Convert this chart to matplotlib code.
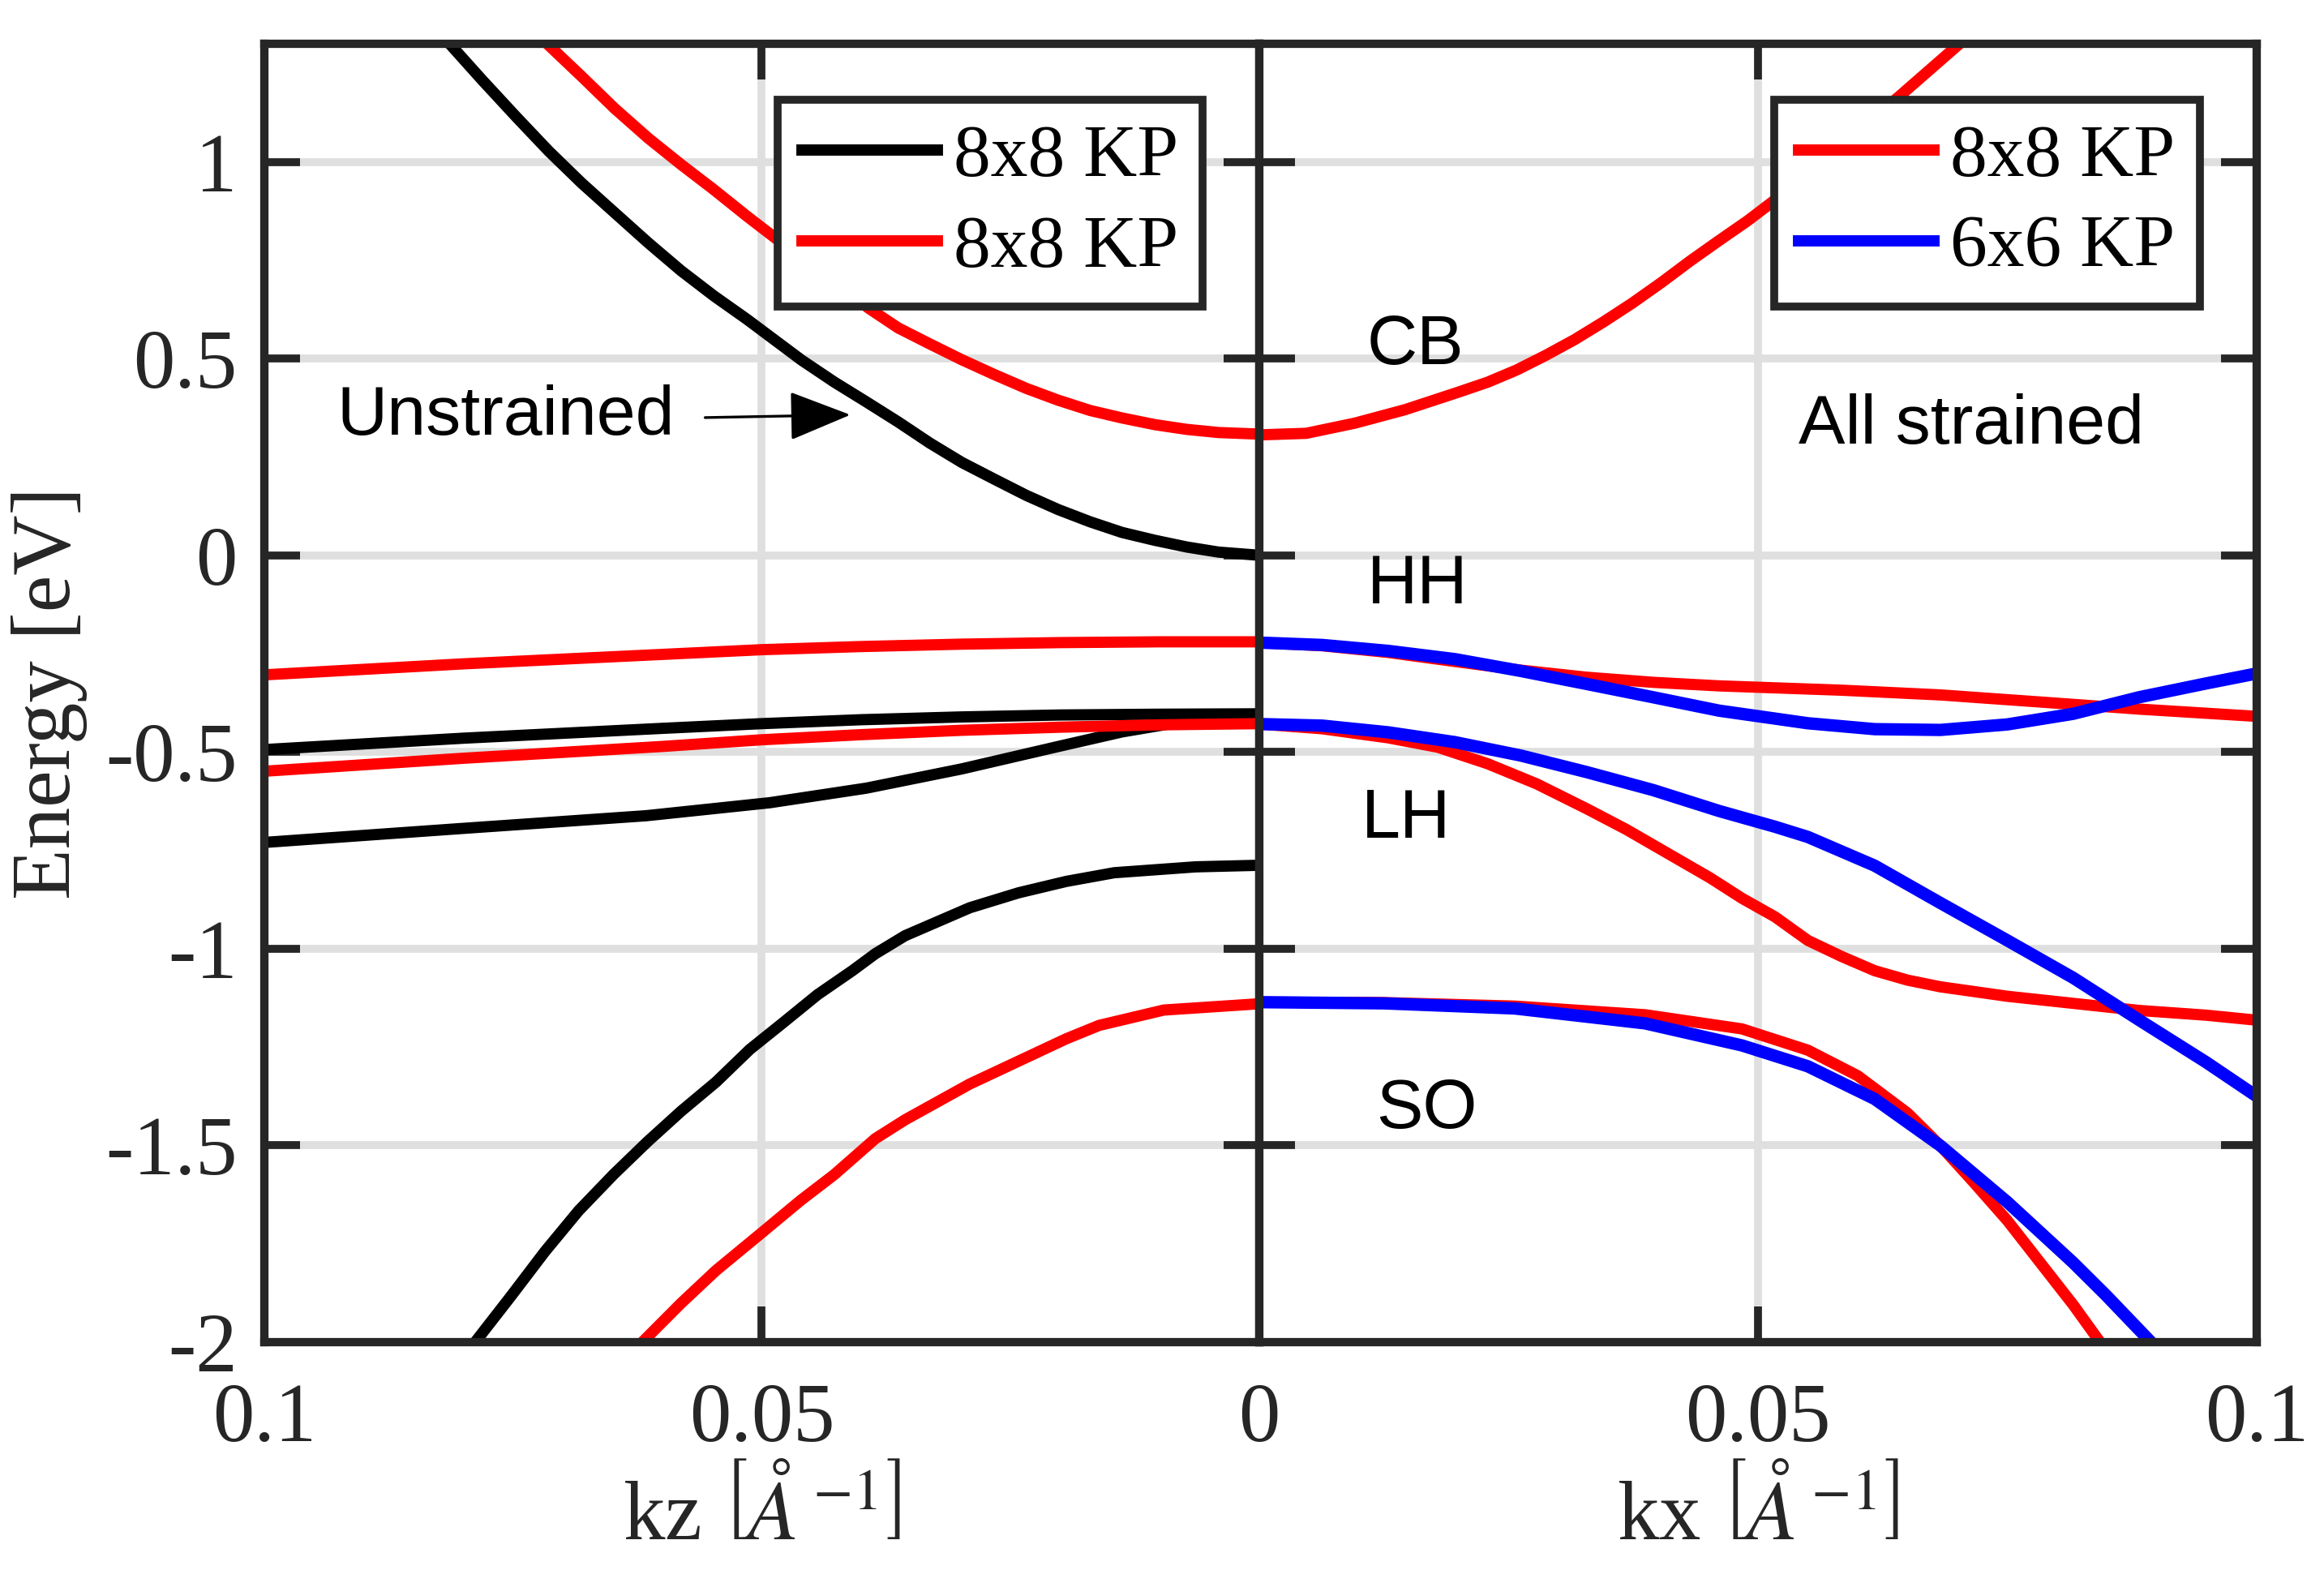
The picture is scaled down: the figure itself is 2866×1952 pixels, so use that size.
import matplotlib.pyplot as plt
from matplotlib.lines import Line2D

plt.rcParams['font.family'] = ['Liberation Serif', 'DejaVu Serif']
plt.rcParams['mathtext.fontset'] = 'stix'
plt.rcParams['axes.unicode_minus'] = False

# ---- left panel: along kz, 8x8 KP, unstrained (black) / strained (red)
kz_cb_u = [0.0814, 0.0781, 0.0747, 0.0714, 0.0681, 0.0648, 0.0614, 0.0581, 0.0548, 0.0515, 0.0460,
           0.0427, 0.0395, 0.0363, 0.0331, 0.0299, 0.0266, 0.0234, 0.0202, 0.0170, 0.0138, 0.0105,
           0.0073, 0.0041, 0.0]
e_cb_u = [1.301, 1.208, 1.115, 1.027, 0.946, 0.871, 0.794, 0.723, 0.659, 0.600, 0.496,
          0.440, 0.390, 0.339, 0.285, 0.236, 0.193, 0.152, 0.116, 0.085, 0.058, 0.038,
          0.021, 0.008, 0.0]
kz_hh_u = [0.1, 0.08, 0.06, 0.05, 0.04, 0.03, 0.02, 0.01, 0.0]
e_hh_u = [-0.494, -0.465, -0.440, -0.428, -0.418, -0.411, -0.406, -0.404, -0.403]
kz_lh_u = [0.1, 0.081, 0.0616, 0.0492, 0.0395, 0.0299, 0.0202, 0.0138, 0.0089, 0.0045, 0.0]
e_lh_u = [-0.730, -0.696, -0.662, -0.629, -0.592, -0.543, -0.486, -0.449, -0.428, -0.414, -0.405]
kz_so_u = [0.0788, 0.0752, 0.0718, 0.0684, 0.0649, 0.0615, 0.0581, 0.0546, 0.0512, 0.0478, 0.0444,
           0.0409, 0.0386, 0.0356, 0.0291, 0.0242, 0.0194, 0.0146, 0.0064, 0.0]
e_so_u = [-2.0, -1.883, -1.770, -1.666, -1.574, -1.491, -1.413, -1.339, -1.256, -1.187, -1.117,
          -1.056, -1.013, -0.967, -0.896, -0.858, -0.829, -0.807, -0.792, -0.788]

kz_cb_s = [0.0716, 0.0681, 0.0648, 0.0614, 0.0581, 0.0548, 0.0515, 0.0478, 0.0392, 0.0363, 0.0331,
           0.0299, 0.0266, 0.0234, 0.0202, 0.0170, 0.0138, 0.0105, 0.0073, 0.0041, 0.0]
e_cb_s = [1.301, 1.217, 1.136, 1.060, 0.993, 0.929, 0.862, 0.790, 0.627, 0.578, 0.537,
          0.497, 0.459, 0.424, 0.394, 0.368, 0.349, 0.332, 0.320, 0.312, 0.308]
kz_hh_s = [0.1, 0.08, 0.06, 0.05, 0.04, 0.03, 0.02, 0.01, 0.0]
e_hh_s = [-0.304, -0.276, -0.252, -0.240, -0.232, -0.226, -0.222, -0.220, -0.220]
kz_lh_s = [0.1, 0.08, 0.06, 0.05, 0.04, 0.03, 0.02, 0.01, 0.0]
e_lh_s = [-0.549, -0.516, -0.486, -0.469, -0.456, -0.445, -0.437, -0.431, -0.428]
kz_so_s = [0.0620, 0.0581, 0.0546, 0.0500, 0.0461, 0.0427, 0.0386, 0.0356, 0.0291, 0.0194, 0.0161,
           0.0096, 0.0]
e_so_s = [-2.0, -1.901, -1.818, -1.722, -1.640, -1.574, -1.483, -1.435, -1.344, -1.229, -1.195,
          -1.156, -1.14]

# ---- right panel: along kx, all strained, 8x8 KP (red) / 6x6 KP (blue)
kx_cb_8 = [0.0, 0.0047, 0.0096, 0.0146, 0.0200, 0.0229, 0.0258, 0.0287, 0.0316, 0.0345, 0.0374,
           0.0403, 0.0432, 0.0461, 0.0490, 0.0519, 0.0641, 0.0702]
e_cb_8 = [0.306, 0.310, 0.336, 0.370, 0.415, 0.440, 0.471, 0.508, 0.548, 0.593, 0.641,
          0.693, 0.748, 0.800, 0.851, 0.907, 1.165, 1.30]
kx_hh_8 = [0.0, 0.0063, 0.0129, 0.0196, 0.0262, 0.0328, 0.0395, 0.0461, 0.0584, 0.0683, 0.0783,
           0.0882, 0.0997]
e_hh_8 = [-0.222, -0.230, -0.247, -0.270, -0.292, -0.310, -0.323, -0.332, -0.343, -0.355, -0.373,
          -0.391, -0.409]
kx_lh_8 = [0.0, 0.0063, 0.0129, 0.0179, 0.0229, 0.0278, 0.0328, 0.0368, 0.0452, 0.0484, 0.0517,
           0.0550, 0.0584, 0.0617, 0.0650, 0.0683, 0.0750, 0.0816, 0.0882, 0.0949, 0.0997]
e_lh_8 = [-0.429, -0.441, -0.464, -0.488, -0.530, -0.581, -0.644, -0.697, -0.820, -0.872, -0.919,
          -0.979, -1.020, -1.056, -1.080, -1.097, -1.121, -1.139, -1.157, -1.169, -1.181]
kx_so_8 = [0.0, 0.0125, 0.0256, 0.0387, 0.0484, 0.0550, 0.0600, 0.0650, 0.0683, 0.0717, 0.0750,
           0.0783, 0.0816, 0.0843]
e_so_8 = [-1.136, -1.137, -1.146, -1.168, -1.204, -1.258, -1.323, -1.418, -1.501, -1.596, -1.691,
          -1.798, -1.905, -2.0]

kx_hh_6 = [0.0, 0.0063, 0.0129, 0.0196, 0.0262, 0.0328, 0.0395, 0.0461, 0.0550, 0.0617, 0.0683,
           0.0750, 0.0816, 0.0882, 0.0949, 0.0997]
e_hh_6 = [-0.222, -0.228, -0.243, -0.264, -0.294, -0.327, -0.361, -0.395, -0.427, -0.442, -0.444,
          -0.430, -0.403, -0.361, -0.326, -0.302]
kx_lh_6 = [0.0, 0.0063, 0.0129, 0.0196, 0.0262, 0.0328, 0.0395, 0.0461, 0.0517, 0.0550, 0.0617,
           0.0683, 0.0750, 0.0816, 0.0882, 0.0949, 0.0997]
e_lh_6 = [-0.429, -0.433, -0.450, -0.475, -0.509, -0.551, -0.597, -0.650, -0.690, -0.716, -0.789,
          -0.884, -0.979, -1.074, -1.181, -1.288, -1.370]
kx_so_6 = [0.0, 0.0125, 0.0256, 0.0387, 0.0484, 0.0550, 0.0617, 0.0683, 0.0750, 0.0816, 0.0849,
           0.0894]
e_so_6 = [-1.136, -1.139, -1.152, -1.19, -1.246, -1.299, -1.382, -1.501, -1.644, -1.798, -1.881,
          -2.0]

yticks = [-2, -1.5, -1, -0.5, 0, 0.5, 1]
yticklabels = ['-2', '-1.5', '-1', '-0.5', '0', '0.5', '1']

dark = '#262626'
lw = 5
fs_tick = 37

fig = plt.figure(figsize=(14.33, 9.76), dpi=200)
axL = fig.add_axes([0.1137, 0.1522, 0.5419 - 0.1137, 0.9723 - 0.1522])
axR = fig.add_axes([0.5419, 0.1522, 0.971 - 0.5419, 0.9723 - 0.1522])

for ax in (axL, axR):
    ax.set_ylim(-2, 1.3)
    ax.set_yticks(yticks)
    ax.grid(True, color='#dfdfdf', lw=3.5)
    ax.set_axisbelow(True)
    for s in ax.spines.values():
        s.set_linewidth(3.7)
        s.set_color(dark)
        s.set_zorder(5)
    ax.tick_params(direction='in', length=16, width=3.5, colors=dark,
                   labelsize=fs_tick, top=True, right=True, pad=18)
    ax.tick_params(axis='y', pad=12)

axL.set_xlim(0.1, 0)
axL.set_xticks([0.1, 0.05, 0])
axL.set_xticklabels(['0.1', '0.05', '0'])
axL.set_yticklabels(yticklabels)
axR.set_xlim(0, 0.1)
axR.set_xticks([0, 0.05, 0.1])
axR.set_xticklabels(['', '0.05', '0.1'])
axR.set_yticklabels([])

axL.plot(kz_cb_u, e_cb_u, color='k', lw=lw)
axL.plot(kz_hh_u, e_hh_u, color='k', lw=lw)
axL.plot(kz_lh_u, e_lh_u, color='k', lw=lw)
axL.plot(kz_so_u, e_so_u, color='k', lw=lw)
axL.plot(kz_cb_s, e_cb_s, color='r', lw=lw)
axL.plot(kz_hh_s, e_hh_s, color='r', lw=lw)
axL.plot(kz_lh_s, e_lh_s, color='r', lw=lw)
axL.plot(kz_so_s, e_so_s, color='r', lw=lw)

axR.plot(kx_cb_8, e_cb_8, color='r', lw=lw)
axR.plot(kx_hh_8, e_hh_8, color='r', lw=lw)
axR.plot(kx_lh_8, e_lh_8, color='r', lw=lw)
axR.plot(kx_so_8, e_so_8, color='r', lw=lw)
axR.plot(kx_hh_6, e_hh_6, color='b', lw=lw + 0.5)
axR.plot(kx_lh_6, e_lh_6, color='b', lw=lw + 0.5)
axR.plot(kx_so_6, e_so_6, color='b', lw=lw + 0.5)

axL.set_ylabel('Energy [eV]', fontsize=fs_tick, color=dark, labelpad=8)
axL.set_xlabel(r'kz $\left[\mathit{\AA}^{-1}\right]$', fontsize=fs_tick, color=dark, labelpad=6)
axR.set_xlabel(r'kx $\left[\mathit{\AA}^{-1}\right]$', fontsize=fs_tick, color=dark, labelpad=6)

# annotations
sans = ['Liberation Sans', 'DejaVu Sans']
axL.text(0.0927, 0.307, 'Unstrained', family=sans, fontsize=31, va='baseline', ha='left')
axL.annotate('', xy=(0.0411, 0.357), xytext=(0.0557, 0.35),
             arrowprops=dict(arrowstyle='-|>,head_length=0.8,head_width=0.32',
                             mutation_scale=30, color='k', lw=1.2,
                             shrinkA=0, shrinkB=0))
axR.text(0.0108, 0.486, 'CB', family=sans, fontsize=31, va='baseline', ha='left')
axR.text(0.0108, -0.123, 'HH', family=sans, fontsize=31, va='baseline', ha='left')
axR.text(0.0102, -0.717, 'LH', family=sans, fontsize=31, va='baseline', ha='left')
axR.text(0.0117, -1.455, 'SO', family=sans, fontsize=31, va='baseline', ha='left')
axR.text(0.0541, 0.284, 'All strained', family=sans, fontsize=31, va='baseline', ha='left')

# legends
def add_legend(ax, colors, labels):
    handles = [Line2D([], [], color=c, lw=5) for c in colors]
    leg = ax.legend(handles, labels, loc='upper right', bbox_to_anchor=(0.943, 0.957),
                    borderaxespad=0, frameon=True, fancybox=False, edgecolor=dark,
                    framealpha=1, fontsize=33, handlelength=1.82, handletextpad=0.22,
                    labelspacing=0.31, borderpad=0.33)
    leg.get_frame().set_linewidth(3.5)
    leg.set_zorder(10)
    return leg

add_legend(axL, ['k', 'r'], ['8x8 KP', '8x8 KP'])
add_legend(axR, ['r', 'b'], ['8x8 KP', '6x6 KP'])

fig.savefig('out.png', dpi=200)
